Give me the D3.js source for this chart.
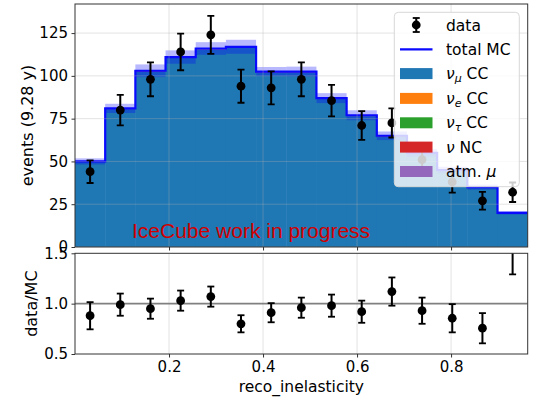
<!DOCTYPE html>
<html><head><meta charset="utf-8">
<script src="https://cdn.jsdelivr.net/npm/d3@7"></script>
<style>body{margin:0;background:#fff}svg{display:block}text{font-family:"DejaVu Sans",sans-serif}</style>
</head><body>
<script>
// ---- data ----
const binEdges = [0.0, 0.0642, 0.1284, 0.1926, 0.2568, 0.321, 0.3852, 0.4494, 0.5136, 0.5778, 0.642, 0.7062, 0.7704, 0.8346, 0.8988, 0.963];
const numuCC = [49.7, 80.6, 102.5, 110.5, 115.5, 116.5, 102.0, 102.0, 86.5, 76.5, 64.5, 54.5, 44.5, 34.5, 19.4];
const nueCC  = [0, 0, 0, 0, 0, 0, 0, 0, 0, 0, 0, 0, 0, 0, 0];
const nutauCC= [0, 0, 0, 0, 0, 0, 0, 0, 0, 0, 0, 0, 0, 0, 0];
const nuNC   = [0.3, 0.4, 0.5, 0.5, 0.5, 0.5, 0.5, 0.5, 0.5, 0.5, 0.5, 0.5, 0.5, 0.5, 0.6];
const atmMu  = [0, 0, 0, 0, 0, 0, 0, 0, 0, 0, 0, 0, 0, 0, 0];
const mcErr  = [1.8, 2.7, 3.7, 3.9, 3.7, 4.1, 2.7, 2.9, 2.9, 2.9, 2.5, 2.2, 1.9, 1.5, 1.0];
const dataVals = [44, 80, 98, 114, 124, 94, 93, 98, 85.5, 71, 72.5, 51, 38, 27, 32];
const dataErr  = [6.6, 8.9, 9.9, 10.7, 11.1, 9.7, 9.6, 9.9, 9.2, 8.4, 8.5, 7.1, 6.2, 5.2, 5.7];
const ratioVals = [0.88, 0.99, 0.95, 1.03, 1.07, 0.80, 0.91, 0.96, 0.98, 0.92, 1.12, 0.93, 0.855, 0.756, 1.57];
const ratioErr  = [0.135, 0.11, 0.10, 0.10, 0.10, 0.085, 0.095, 0.10, 0.11, 0.11, 0.14, 0.13, 0.14, 0.15, 0.28];
const topTicks = [0, 25, 50, 75, 100, 125];
const ratioTicks = [0.5, 1.0, 1.5];
const xTicks = [0.2, 0.4, 0.6, 0.8];
const legendItems = [
  {key:"numu", color:"#1f77b4"},
  {key:"nue", color:"#ff7f0e"},
  {key:"nutau", color:"#2ca02c"},
  {key:"nc", color:"#d62728"},
  {key:"atm", color:"#9467bd"}
];

const W = 534, H = 397;
const L = 75, R = 527.7;
const topY0 = 4, topY1 = 247;
const botY0 = 253.3, botY1 = 354;

const svg = d3.select("body").append("svg").attr("width", W).attr("height", H);

const x = d3.scaleLinear().domain([binEdges[0], binEdges[binEdges.length-1]]).range([L, R]);
const y = d3.scaleLinear().domain([0, 142]).range([topY1, topY0]);
const yr = d3.scaleLinear().domain([0.5, 1.5]).range([botY1, botY0]);

const nb = numuCC.length;
const bins = d3.range(nb).map(i => {
  const comps = [numuCC[i], nueCC[i], nutauCC[i], nuNC[i], atmMu[i]];
  return {i, x0: binEdges[i], x1: binEdges[i+1], xc: (binEdges[i]+binEdges[i+1])/2,
          comps, total: d3.sum(comps), err: mcErr[i], d: dataVals[i], de: dataErr[i],
          r: ratioVals[i], re: ratioErr[i]};
});

const defs = svg.append("defs");
defs.append("clipPath").attr("id","clipTop")
  .append("rect").attr("x",L).attr("y",topY0).attr("width",R-L).attr("height",topY1-topY0);
defs.append("clipPath").attr("id","clipBot")
  .append("rect").attr("x",L).attr("y",botY0).attr("width",R-L).attr("height",botY1-botY0);

// ---- top panel ----
const gTop = svg.append("g").attr("clip-path","url(#clipTop)");
const compColors = legendItems.map(d => d.color);
bins.forEach(b => {
  let acc = 0;
  b.comps.forEach((v, k) => {
    if (v > 0) {
      gTop.append("rect").attr("x", x(b.x0)).attr("width", x(b.x1)-x(b.x0)+0.5)
        .attr("y", y(acc+v)).attr("height", y(acc)-y(acc+v)).attr("fill", compColors[k]);
    }
    acc += v;
  });
});
gTop.selectAll("rect.band").data(bins).join("rect").attr("class","band")
  .attr("x", d => x(d.x0)).attr("width", d => x(d.x1)-x(d.x0))
  .attr("y", d => y(d.total + d.err)).attr("height", d => y(d.total - d.err) - y(d.total + d.err))
  .attr("fill", "rgb(0,0,255)").attr("fill-opacity", 0.28);
const stepPts = [];
bins.forEach(b => { stepPts.push([x(b.x0), y(b.total)]); stepPts.push([x(b.x1), y(b.total)]); });
gTop.append("path").attr("d", d3.line()(stepPts)).attr("fill","none")
  .attr("stroke","#0a0aff").attr("stroke-width",2.2);
gTop.selectAll("line.gx").data(xTicks).join("line").attr("class","gx")
  .attr("x1", d=>x(d)).attr("x2", d=>x(d)).attr("y1", topY0).attr("y2", topY1)
  .attr("stroke","#b0b0b0").attr("stroke-opacity",0.35).attr("stroke-width",1);
gTop.selectAll("line.gy").data(topTicks).join("line").attr("class","gy")
  .attr("x1", L).attr("x2", R).attr("y1", d=>y(d)).attr("y2", d=>y(d))
  .attr("stroke","#b0b0b0").attr("stroke-opacity",0.35).attr("stroke-width",1);

function drawErr(g, data, ys, val, err) {
  const cap = 3.5;
  const eg = g.append("g");
  data.forEach(d => {
    const cx = x(d.xc), yT = ys(val(d)+err(d)), yB = ys(val(d)-err(d));
    eg.append("line").attr("x1",cx).attr("x2",cx).attr("y1",yT).attr("y2",yB)
      .attr("stroke","#000").attr("stroke-width",2);
    [yT, yB].forEach(yy => eg.append("line").attr("x1",cx-cap).attr("x2",cx+cap)
      .attr("y1",yy).attr("y2",yy).attr("stroke","#000").attr("stroke-width",1.8));
    eg.append("circle").attr("cx",cx).attr("cy",ys(val(d))).attr("r",4.4).attr("fill","#000");
  });
}
drawErr(gTop, bins, y, d=>d.d, d=>d.de);

svg.append("text").attr("x",132).attr("y",237.5).attr("fill","#d00000")
  .style("font-family","'Liberation Sans',Arial,sans-serif").style("font-size","21px")
  .text("IceCube work in progress");

svg.append("rect").attr("x",L).attr("y",topY0).attr("width",R-L).attr("height",topY1-topY0)
  .attr("fill","none").attr("stroke","#333").attr("stroke-width",1);
const yAxisTop = svg.append("g").attr("transform",`translate(${L},0)`)
  .call(d3.axisLeft(y).tickValues(topTicks).tickSize(3.5).tickPadding(3.5).tickFormat(d3.format("d")));
const xAxisTop = svg.append("g").attr("transform",`translate(0,${topY1})`)
  .call(d3.axisBottom(x).tickValues(xTicks).tickSize(3.5).tickFormat(""));
[yAxisTop, xAxisTop].forEach(a => { a.select(".domain").remove();
  a.selectAll("line").attr("stroke","#333").attr("stroke-width",1);
  a.selectAll("text").style("font-size","15px").style("font-family","'DejaVu Sans',sans-serif").attr("fill","#000"); });

svg.append("text").attr("transform",`translate(27,${(topY0+topY1)/2}) rotate(-90)`)
  .attr("text-anchor","middle").attr("dy","0.35em").style("font-size","16px").text("events (9.28 y)");

// ---- bottom panel ----
const gBot = svg.append("g").attr("clip-path","url(#clipBot)");
gBot.selectAll("line.gx").data(xTicks).join("line").attr("class","gx")
  .attr("x1", d=>x(d)).attr("x2", d=>x(d)).attr("y1", botY0).attr("y2", botY1)
  .attr("stroke","#b0b0b0").attr("stroke-opacity",0.35).attr("stroke-width",1);
gBot.append("line").attr("x1",L).attr("x2",R).attr("y1",yr(1)).attr("y2",yr(1))
  .attr("stroke","#808080").attr("stroke-width",1.8);
drawErr(gBot, bins, yr, d=>d.r, d=>d.re);

svg.append("rect").attr("x",L).attr("y",botY0).attr("width",R-L).attr("height",botY1-botY0)
  .attr("fill","none").attr("stroke","#333").attr("stroke-width",1);
const yAxisBot = svg.append("g").attr("transform",`translate(${L},0)`)
  .call(d3.axisLeft(yr).tickValues(ratioTicks).tickSize(3.5).tickPadding(3.5).tickFormat(d3.format(".1f")));
const xAxisBot = svg.append("g").attr("transform",`translate(0,${botY1})`)
  .call(d3.axisBottom(x).tickValues(xTicks).tickSize(3.5).tickPadding(3.5).tickFormat(d3.format(".1f")));
[yAxisBot, xAxisBot].forEach(a => { a.select(".domain").remove();
  a.selectAll("line").attr("stroke","#333").attr("stroke-width",1);
  a.selectAll("text").style("font-size","15px").style("font-family","'DejaVu Sans',sans-serif").attr("fill","#000"); });

svg.append("text").attr("transform",`translate(31.5,${(botY0+botY1)/2}) rotate(-90)`)
  .attr("text-anchor","middle").attr("dy","0.35em").style("font-size","16px").text("data/MC");
svg.append("text").attr("x",(L+R)/2).attr("y",391.5).attr("text-anchor","middle")
  .style("font-size","15.5px").text("reco_inelasticity");

// ---- legend ----
const lg = svg.append("g");
lg.append("rect").attr("x",394.3).attr("y",12.3).attr("width",125).attr("height",174.4)
  .attr("rx",4).attr("fill","#fff").attr("fill-opacity",0.8).attr("stroke","#d8d8d8").attr("stroke-width",1);
const lx0 = 400, lx1 = 432.5, tx = 446, fs = 15.5;
const rowY = [25, 49.3, 73.6, 98.4, 122.8, 147.1, 171.5];
const hx = (lx0+lx1)/2;
lg.append("line").attr("x1",hx).attr("x2",hx).attr("y1",rowY[0]-7).attr("y2",rowY[0]+7).attr("stroke","#000").attr("stroke-width",2);
[rowY[0]-7,rowY[0]+7].forEach(yy=>lg.append("line").attr("x1",hx-3.5).attr("x2",hx+3.5).attr("y1",yy).attr("y2",yy).attr("stroke","#000").attr("stroke-width",1.8));
lg.append("circle").attr("cx",hx).attr("cy",rowY[0]).attr("r",4.4).attr("fill","#000");
lg.append("line").attr("x1",lx0).attr("x2",lx1).attr("y1",rowY[1]).attr("y2",rowY[1]).attr("stroke","#0a0aff").attr("stroke-width",2.2);
legendItems.forEach((it, k) => {
  lg.append("rect").attr("x",lx0).attr("y",rowY[k+2]-5.5).attr("width",lx1-lx0).attr("height",11).attr("fill",it.color);
});
function ltext(row){ return lg.append("text").attr("x",tx).attr("y",rowY[row]).attr("dy","0.36em").style("font-size",fs+"px"); }
ltext(0).text("data");
ltext(1).text("total MC");
function nuLabel(row, sub, rest){
  const t = ltext(row);
  t.append("tspan").style("font-style","italic").text("ν");
  if (sub) t.append("tspan").style("font-style","italic").style("font-size","11px").attr("dy","3").text(sub);
  t.append("tspan").attr("dy", sub ? "-3" : "0").text(rest);
}
nuLabel(2, "μ", " CC");
nuLabel(3, "e", " CC");
nuLabel(4, "τ", " CC");
nuLabel(5, null, " NC");
const at = ltext(6); at.append("tspan").text("atm. "); at.append("tspan").style("font-style","italic").text("μ");
</script>
</body></html>
